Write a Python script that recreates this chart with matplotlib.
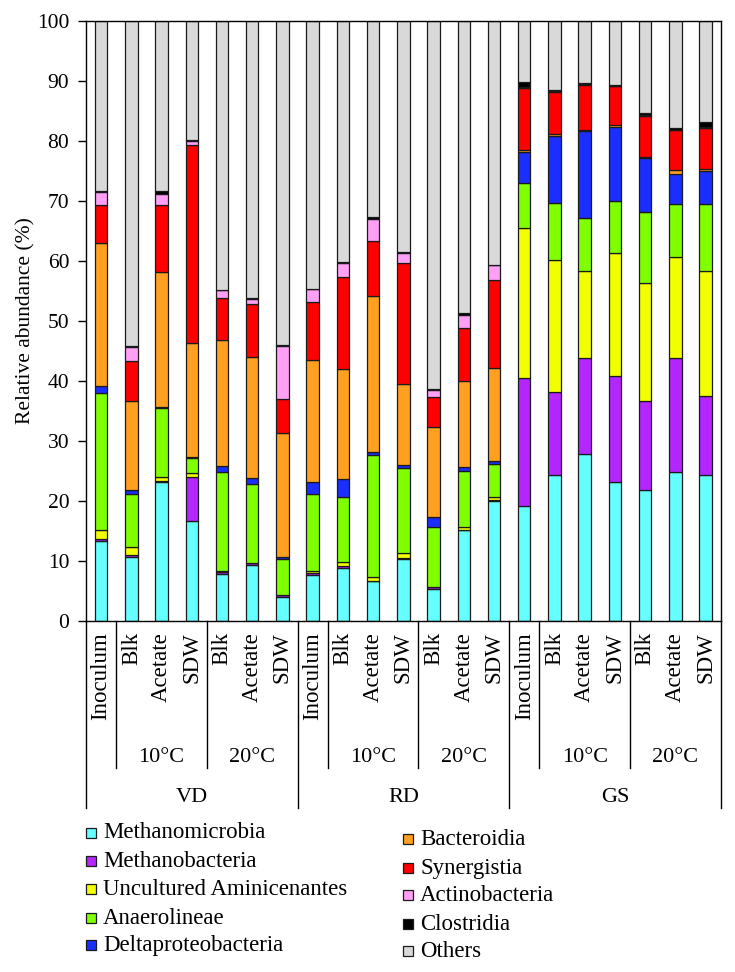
import matplotlib
matplotlib.use('Agg')
import matplotlib.pyplot as plt
import numpy as np
from matplotlib.transforms import blended_transform_factory
from matplotlib.patches import Rectangle

plt.rcParams['font.family'] = ['Liberation Serif', 'DejaVu Serif']

# ---------------- data ----------------
sample_labels = ['Inoculum', 'Blk', 'Acetate', 'SDW', 'Blk', 'Acetate', 'SDW',
                 'Inoculum', 'Blk', 'Acetate', 'SDW', 'Blk', 'Acetate', 'SDW',
                 'Inoculum', 'Blk', 'Acetate', 'SDW', 'Blk', 'Acetate', 'SDW']
sites = ['VD', 'RD', 'GS']
temperatures = ['10°C', '20°C']

class_names = ['Methanomicrobia', 'Methanobacteria', 'Uncultured Aminicenantes',
               'Anaerolineae', 'Deltaproteobacteria', 'Bacteroidia', 'Synergistia',
               'Actinobacteria', 'Clostridia', 'Others']
class_colors = ['#66FFFF', '#B326FF', '#F2FF00', '#80FF00', '#1A2EFF',
                '#FFA020', '#FF0000', '#FFA0F5', '#000000', '#D9D9D9']

methanomicrobia = [13.4, 10.7, 23.1, 16.7, 7.8, 9.4, 4.0,
                   7.7, 8.9, 6.6, 10.4, 5.4, 15.1, 20.0,
                   19.1, 24.4, 27.9, 23.2, 21.8, 24.8, 24.3]
methanobacteria = [0.2, 0.3, 0.2, 7.3, 0.4, 0.2, 0.3,
                   0.3, 0.3, 0.1, 0.1, 0.2, 0.1, 0.1,
                   21.4, 13.8, 16.0, 17.7, 14.9, 19.1, 13.2]
aminicenantes = [1.5, 1.4, 0.7, 0.6, 0.2, 0.1, 0.1,
                 0.4, 0.6, 0.7, 0.8, 0.1, 0.4, 0.5,
                 25.0, 21.9, 14.5, 20.4, 19.7, 16.7, 20.8]
anaerolineae = [22.9, 8.7, 11.5, 2.5, 16.4, 13.2, 6.0,
                12.8, 10.8, 20.2, 14.2, 10.0, 9.4, 5.5,
                7.5, 9.6, 8.8, 8.7, 11.8, 8.9, 11.2]
deltaproteobacteria = [1.2, 0.8, 0.2, 0.2, 1.0, 0.9, 0.2,
                       2.0, 3.0, 0.5, 0.5, 1.7, 0.6, 0.6,
                       5.2, 11.1, 14.5, 12.4, 9.0, 5.0, 5.5]
bacteroidia = [23.8, 14.7, 22.4, 19.0, 21.1, 20.2, 20.7,
               20.3, 18.4, 26.0, 13.5, 14.9, 14.4, 15.5,
               0.3, 0.4, 0.2, 0.2, 0.2, 0.7, 0.4]
synergistia = [6.3, 6.7, 11.2, 33.1, 7.0, 8.9, 5.7,
               9.7, 15.3, 9.2, 20.1, 5.1, 8.9, 14.7,
               10.4, 7.0, 7.5, 6.5, 6.8, 6.6, 6.8]
actinobacteria = [2.2, 2.4, 1.8, 0.6, 1.2, 0.7, 8.9,
                  2.1, 2.4, 3.7, 1.7, 1.1, 2.1, 2.4,
                  0.1, 0.1, 0.1, 0.1, 0.1, 0.1, 0.1]
clostridia = [0.2, 0.2, 0.6, 0.1, 0.1, 0.2, 0.1,
              0.1, 0.2, 0.3, 0.2, 0.2, 0.3, 0.1,
              0.8, 0.2, 0.2, 0.2, 0.4, 0.2, 0.9]

known = [methanomicrobia, methanobacteria, aminicenantes, anaerolineae,
         deltaproteobacteria, bacteroidia, synergistia, actinobacteria, clostridia]
others = list(100 - np.sum(np.array(known), axis=0))
series = known + [others]

# ---------------- figure ----------------
W, H = 735, 972
fig = plt.figure(figsize=(W / 100, H / 100), dpi=100)
ax = fig.add_axes([86 / W, 1 - 621 / H, 634.7 / W, 600 / H])

x = np.arange(len(sample_labels))
bottom = np.zeros(len(x))
for vals, col in zip(series, class_colors):
    ax.bar(x, vals, 0.41, bottom=bottom, color=col, edgecolor='#1a1a1a',
           linewidth=0.9, zorder=2)
    bottom += np.array(vals)

ax.set_xlim(-0.5, len(x) - 0.5)
ax.set_ylim(0, 100)
ax.set_yticks(np.arange(0, 101, 10))
ax.tick_params(axis='y', direction='out', length=6, width=1.0, pad=6, labelsize=15.5)
ax.set_xticks(x)
ax.set_xticklabels(sample_labels, rotation=90, fontsize=16.5)
ax.tick_params(axis='x', length=0, pad=8)
for s in ax.spines.values():
    s.set_linewidth(1.0)
ax.set_ylabel('Relative abundance (%)', fontsize=15.5)
ax.yaxis.set_label_coords(-0.08, 0.5)

# ---------------- hierarchical axis ----------------
trans = blended_transform_factory(ax.transData, fig.transFigure)
def fy(px):
    return 1 - px / H

short_bounds = [0.5, 3.5, 7.5, 10.5, 14.5, 17.5]
long_bounds = [-0.5, 6.5, 13.5, 20.5]
for b in short_bounds:
    ax.plot([b, b], [fy(621), fy(768)], transform=trans, clip_on=False,
            color='black', lw=1.0)
for b in long_bounds:
    ax.plot([b, b], [fy(621), fy(808)], transform=trans, clip_on=False,
            color='black', lw=1.0)

temp_centres = [2, 5, 9, 12, 16, 19]
for i, c in enumerate(temp_centres):
    ax.text(c, fy(757), temperatures[i % 2], transform=trans, ha='center',
            va='center', fontsize=16)
site_centres = [3, 10, 17]
for s, c in zip(sites, site_centres):
    ax.text(c, fy(797), s, transform=trans, ha='center', va='center', fontsize=16)

# ---------------- legend ----------------
col1_y = [833, 861, 889, 918, 945]
col2_y = [839, 868, 895, 924, 951]
for i, (name, col) in enumerate(zip(class_names, class_colors)):
    if i < 5:
        px, py = 86, col1_y[i]
    else:
        px, py = 403, col2_y[i - 5]
    fig.patches.append(Rectangle((px / W, fy(py + 5)), 10 / W, 10 / H,
                                 facecolor=col, edgecolor='#1a1a1a', lw=0.9,
                                 transform=fig.transFigure))
    fig.text((px + 17) / W, fy(py), name, ha='left', va='center', fontsize=16.5)

# crop effect at the bottom like the reference
fig.patches.append(Rectangle((0, 0), 1, (H - 958) / H, facecolor='white',
                             edgecolor='none', transform=fig.transFigure, zorder=10))

fig.savefig('out.png', dpi=100)
